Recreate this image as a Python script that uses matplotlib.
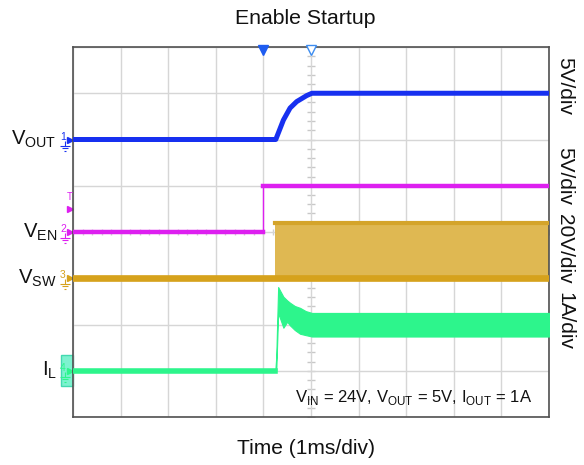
"""Enable Startup: オシロスコープ波形（VOUT, VEN, VSW, IL）を再現する。"""
import matplotlib
matplotlib.use("Agg")
import matplotlib.pyplot as plt
from matplotlib.path import Path
from matplotlib.patches import Rectangle
import matplotlib.transforms as mtransforms
import numpy as np

# 時間軸 [ms]（1ms/div, 10 div）
# VOUT [V]（5V/div, 基準 6 div）
vout_t = [0.0, 4.26, 4.42, 4.56, 4.70, 4.91, 5.02, 10.0]
vout_v = [0.0, 0.0, 2.1, 3.4, 4.1, 4.75, 5.0, 5.0]

# VEN [V]（5V/div, 基準 4 div）
ven_t = [0.0, 4.0, 4.0, 10.0]
ven_v = [0.0, 0.0, 5.0, 5.0]

# VSW [V]（20V/div, 基準 3 div）: スイッチング帯の上下端
vsw_t = [0.0, 4.25, 4.25, 10.0]
vsw_hi = [0.0, 0.0, 24.0, 24.0]

# IL [A]（1A/div, 基準 1 div）: リップル帯の上下包絡線
il_t = [0.0, 4.25, 4.27, 4.31, 4.42, 4.50, 4.56, 4.66, 4.77, 4.89, 5.02, 10.0]
il_hi = [0.0, 0.0, 0.3, 1.81, 1.60, 1.52, 1.47, 1.40, 1.36, 1.29, 1.25, 1.25]
il_lo = [0.0, 0.0, 0.0, 1.25, 0.93, 1.06, 0.98, 0.88, 0.80, 0.77, 0.74, 0.74]

# チャンネル: (ラベル, 番号, 基準 div, V/div, 色, スケール表示)
channels = [
    (r"V$_{\mathregular{OUT}}$", "1", 6.0, 5.0, "#1730F0", "5V/div"),
    (r"V$_{\mathregular{EN}}$", "2", 4.0, 5.0, "#DD1FF0", "5V/div"),
    (r"V$_{\mathregular{SW}}$", "3", 3.0, 20.0, "#D6A21C", "20V/div"),
    (r"I$_{\mathregular{L}}$", "4", 1.0, 1.0, "#2DF58C", "1A/div"),
]
scale_y = [86, 176, 249, 321]  # 右側スケール表示の中心（px）

COND = (r"V$_{\mathregular{IN}}$ = 24V, V$_{\mathregular{OUT}}$ = 5V, "
        r"I$_{\mathregular{OUT}}$ = 1A")


def div(v, ch):
    _, _, off, scale, _, _ = channels[ch]
    return off + np.asarray(v) / scale


def main() -> None:
    plt.rcParams["font.family"] = ["Liberation Sans", "DejaVu Sans"]
    fig = plt.figure(figsize=(5.84, 4.65), dpi=100)
    ax = fig.add_axes([73 / 584, 1 - 417 / 465, 476 / 584, 370 / 465])
    ax.set_xlim(0, 10)
    ax.set_ylim(0, 8)

    # グリッドと中央目盛
    ax.set_xticks(range(11))
    ax.set_yticks(range(9))
    ax.tick_params(length=0, labelbottom=False, labelleft=False)
    ax.grid(color="#D6D6D6", lw=1.0)
    for s in ax.spines.values():
        s.set_color("#505050")
        s.set_linewidth(1.2)
    minor = np.arange(0, 8.01, 0.2)
    ax.plot(np.full_like(minor, 5.0), minor, ls="none", marker="_",
            ms=6, color="#C8C8C8", mew=1.0, zorder=1)
    minor_x = np.arange(0, 10.01, 0.2)
    ax.plot(minor_x, np.full_like(minor_x, 4.0), ls="none", marker="|",
            ms=4, color="#D0D0D0", mew=1.0, zorder=1)

    # VSW
    c = channels[2][4]
    ax.fill_between(vsw_t, div(np.zeros(4), 2), div(vsw_hi, 2),
                    color="#DFB852", lw=0, zorder=2)
    ax.plot(vsw_t[2:], div(vsw_hi[2:], 2), color="#D4A42A", lw=3, zorder=3)
    ax.plot(vsw_t, div(np.zeros(4), 2), color=c, lw=4.8, zorder=3)

    # IL
    c = channels[3][4]
    ax.fill_between(il_t, div(il_lo, 3), div(il_hi, 3), color=c, lw=0.8,
                    ec=c, zorder=3)
    ax.plot(il_t[:2], div(il_lo[:2], 3), color=c, lw=4, zorder=3)

    # VEN（立ち上がりは細線）
    c = channels[1][4]
    ax.plot(ven_t, div(ven_v, 1), color=c, lw=1.0, zorder=3)
    ax.plot(ven_t[:2], div(ven_v[:2], 1), color=c, lw=3.2, zorder=3)
    ax.plot(ven_t[2:], div(ven_v[2:], 1), color=c, lw=3.2, zorder=3)

    # VOUT
    ax.plot(vout_t, div(vout_v, 0), color=channels[0][4], lw=3.6, zorder=4,
            solid_capstyle="butt")

    # トリガ位置マーカー
    ax.plot(4.0, 7.93, marker="v", ms=6.5, color="#1E5CF0", clip_on=False, zorder=5)
    ax.plot(5.0, 7.93, marker="v", ms=6.5, mfc="white", mec="#3C8CF0",
            clip_on=False, zorder=5)

    # 左側のチャンネル表示
    trans = mtransforms.blended_transform_factory(ax.transAxes, ax.transData)
    gnd = Path([(0, 1), (0, 0), (-1, 0), (1, 0), (-0.6, -0.5), (0.6, -0.5),
                (-0.25, -1), (0.25, -1)],
               [Path.MOVETO, Path.LINETO, Path.MOVETO, Path.LINETO,
                Path.MOVETO, Path.LINETO, Path.MOVETO, Path.LINETO])
    ax.add_patch(Rectangle((-0.026, 0.68), 0.025, 0.66, transform=trans,
                           fc="#7DF2CF", ec="#43D9B0", lw=1, clip_on=False))
    for label, num, off, _, c, _ in channels:
        ax.text(-0.034, off, label, transform=trans, ha="right", va="center",
                fontsize=14.6, color="#111111")
        ax.text(-0.021, off + 0.06, num, transform=trans, ha="center",
                va="center", fontsize=7.5, color=c)
        ax.plot(-0.006, off, marker=">", ms=4, color=c, transform=trans,
                clip_on=False)
        ax.plot(-0.016, off - 0.13, marker=gnd, ms=7, mew=0.8, color=c,
                transform=trans, clip_on=False)
    c = channels[1][4]
    ax.text(-0.007, 4.76, "T", transform=trans, ha="center", va="center",
            fontsize=7, color=c)
    ax.plot(-0.006, 4.5, marker=">", ms=4, color=c, transform=trans,
            clip_on=False)

    # 右側のスケール表示
    for ch, yy in zip(channels, scale_y):
        fig.text(565 / 584, 1 - yy / 465, ch[5], rotation=-90, ha="center",
                 va="center", fontsize=15, color="#111111")

    ax.text(0.964, 0.43, COND, transform=trans, ha="right", va="center",
            fontsize=12, color="#111111")
    fig.text(305.5 / 584, 1 - 18 / 465, "Enable Startup", ha="center",
             va="center", fontsize=15.3, color="#111111")
    fig.text(306 / 584, 1 - 448 / 465, "Time (1ms/div)", ha="center",
             va="center", fontsize=15.1, color="#111111")

    fig.savefig("out.png", dpi=100)


if __name__ == "__main__":
    main()
